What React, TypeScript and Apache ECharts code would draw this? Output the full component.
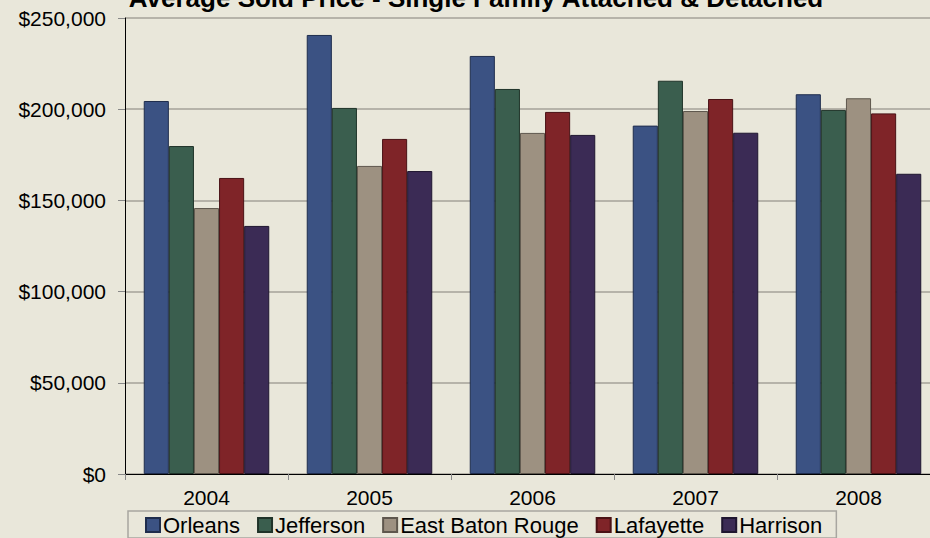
import React, { useEffect, useRef } from "react";
import * as echarts from "echarts";

const years = ["2004", "2005", "2006", "2007", "2008"];
const orleans = [204500, 240700, 229200, 191000, 208200];
const jefferson = [179800, 200700, 211100, 215600, 199600];
const eastBatonRouge = [145800, 168900, 187000, 199000, 206000];
const lafayette = [162300, 183700, 198500, 205600, 197700];
const harrison = [136000, 166100, 185900, 187100, 164600];

const seriesDefs = [
  { name: "Orleans", data: orleans, color: "#3B5283", border: "#1F2D4D" },
  { name: "Jefferson", data: jefferson, color: "#3A5E4E", border: "#1F3329" },
  { name: "East Baton Rouge", data: eastBatonRouge, color: "#9D9181", border: "#5E574D" },
  { name: "Lafayette", data: lafayette, color: "#7F2428", border: "#4A1215" },
  { name: "Harrison", data: harrison, color: "#3B2B55", border: "#1F1630" },
];

export default function App() {
  const ref = useRef<HTMLDivElement>(null);
  useEffect(() => {
    if (!ref.current) return;
    const chart = echarts.init(ref.current, null, { renderer: "svg" });
    chart.setOption({
      animation: false,
      backgroundColor: "#E9E7DA",
      textStyle: { fontFamily: "Liberation Sans, Arial, sans-serif" },
      title: {
        text: "Average Sold Price - Single Family Attached & Detached",
        left: 471,
        textAlign: "center",
        top: -20,
        textStyle: { fontSize: 26, fontWeight: "bold", color: "#000" },
      },
      grid: { left: 125, right: 0, top: 18, bottom: 64 },
      legend: {
        left: 128,
        top: 511,
        padding: [3, 14, 2, 17],
        borderColor: "#A8A6A0",
        borderWidth: 1.5,
        itemWidth: 14,
        itemHeight: 14,
        itemGap: 17,
        icon: "rect",
        textStyle: { fontSize: 22, color: "#000", padding: [0, 0, 0, -2] },
        data: seriesDefs.map((s) => s.name),
      },
      xAxis: {
        type: "category",
        data: years,
        axisLine: { lineStyle: { color: "#000", width: 1 } },
        axisTick: { show: true, length: 6, lineStyle: { color: "#888" } },
        axisLabel: { fontSize: 21, color: "#000", margin: 13 },
      },
      yAxis: {
        type: "value",
        min: 0,
        max: 250000,
        interval: 50000,
        axisLine: { show: true, lineStyle: { color: "#000", width: 1 } },
        axisTick: { show: true, length: 7, lineStyle: { color: "#888" } },
        axisLabel: {
          fontSize: 21,
          color: "#000",
          margin: 19,
          formatter: (v: number) => "$" + v.toLocaleString("en-US"),
        },
        splitLine: { lineStyle: { color: "#A4A298", width: 1.5 } },
      },
      series: seriesDefs.map((s) => ({
        name: s.name,
        type: "bar",
        data: s.data,
        barGap: "0%",
        barCategoryGap: "23%",
        itemStyle: { color: s.color, borderColor: s.border, borderWidth: 1 },
      })),
    });
    return () => chart.dispose();
  }, []);
  return (
    <div style={{ position: "absolute", left: 0, top: 0, width: 930, height: 538, overflow: "hidden" }}>
      <div ref={ref} style={{ width: 940, height: 538 }} />
    </div>
  );
}
